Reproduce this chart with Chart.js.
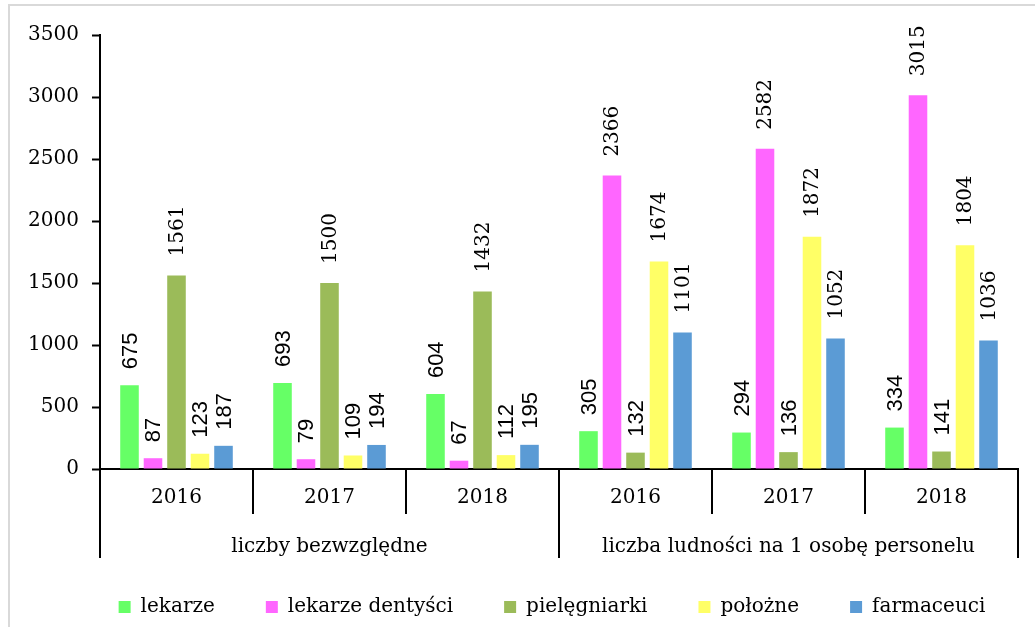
<!DOCTYPE html>
<html>
<head>
<meta charset="utf-8">
<script src="https://cdn.jsdelivr.net/npm/chart.js@4"></script>
<style>
  html, body { margin: 0; padding: 0; background: #fff; }
  #wrap { width: 1035px; height: 627px; position: relative; }
</style>
</head>
<body>
<div id="wrap"><canvas id="chart"></canvas></div>
<script>
// Data
const years = ['2016', '2017', '2018', '2016', '2017', '2018'];
const groups = ['liczby bezwzględne', 'liczba ludności na 1 osobę personelu'];
const lekarze = [675, 693, 604, 305, 294, 334];
const dentysci = [87, 79, 67, 2366, 2582, 3015];
const pielegniarki = [1561, 1500, 1432, 132, 136, 141];
const polozne = [123, 109, 112, 1674, 1872, 1804];
const farmaceuci = [187, 194, 195, 1101, 1052, 1036];
const yTicks = [0, 500, 1000, 1500, 2000, 2500, 3000, 3500];

const serif = "'DejaVu Serif', serif";
const sans = "'Liberation Sans', Arial, sans-serif";

// light frame around the chart, legend row shifted right like the original
const framePlugin = {
    id: 'frame',
    afterLayout(chart) {
        chart.legend.left = 60;
        chart.legend.right = 1044;
    },
    beforeDraw(chart) {
        const c = chart.ctx;
        c.save();
        c.strokeStyle = '#d9d9d9';
        c.lineWidth = 2;
        c.strokeRect(9, 5, chart.width + 20, chart.height + 20);
        c.restore();
    }
};

// rotated value labels above bars (4-digit ones are set in serif in the original)
const valueLabels = {
    id: 'valueLabels',
    afterDatasetsDraw(chart) {
        const c = chart.ctx;
        c.save();
        c.fillStyle = '#000';
        chart.data.datasets.forEach((ds, di) => {
            const meta = chart.getDatasetMeta(di);
            meta.data.forEach((bar, i) => {
                const v = ds.data[i];
                const big = v >= 1000;
                c.save();
                c.font = big ? '20px ' + serif : '22px ' + sans;
                c.translate(bar.x, bar.y - (big ? 19 : 16));
                c.rotate(-Math.PI / 2);
                c.textAlign = 'left';
                c.textBaseline = 'middle';
                c.fillText(String(v), 0, 1);
                c.restore();
            });
        });
        c.restore();
    }
};

// two-level category axis
const groupAxis = {
    id: 'groupAxis',
    afterDraw(chart) {
        const x = chart.scales.x;
        const c = chart.ctx;
        const base = chart.chartArea.bottom;
        const step = (x.right - x.left) / years.length;
        c.save();
        c.strokeStyle = '#000';
        c.lineWidth = 2;
        for (let i = 0; i <= years.length; i++) {
            const px = Math.round(x.left + i * step);
            const long = i % 3 === 0;
            c.beginPath();
            c.moveTo(px, base);
            c.lineTo(px, base + (long ? 89 : 45));
            c.stroke();
        }
        c.fillStyle = '#000';
        c.font = '20px ' + serif;
        c.textAlign = 'center';
        c.textBaseline = 'middle';
        years.forEach((y, i) => {
            c.fillText(y, x.getPixelForValue(i), base + 29);
        });
        groups.forEach((g, gi) => {
            const cx = x.left + (gi * 3 + 1.5) * step;
            c.fillText(g, cx, base + 78);
        });
        c.restore();
    }
};

const mk = (label, data, color) => ({
    label: label,
    data: data,
    backgroundColor: color,
    borderWidth: 0,
    categoryPercentage: 0.768,
    barPercentage: 0.79
});

new Chart(document.getElementById('chart'), {
    type: 'bar',
    data: {
        labels: years,
        datasets: [
            mk('lekarze', lekarze, '#66ff66'),
            mk('lekarze dentyści', dentysci, '#ff66ff'),
            mk('pielęgniarki', pielegniarki, '#9bbb59'),
            mk('położne', polozne, '#ffff66'),
            mk('farmaceuci', farmaceuci, '#5b9bd5')
        ]
    },
    options: {
        responsive: true,
        maintainAspectRatio: false,
        animation: false,
        devicePixelRatio: 1,
        layout: { padding: { left: 0, right: 17, top: 35, bottom: 0 } },
        plugins: {
            legend: {
                position: 'bottom',
                labels: {
                    color: '#000',
                    font: { family: serif, size: 20 },
                    boxWidth: 12,
                    boxHeight: 12,
                    padding: 51
                }
            },
            tooltip: { enabled: false }
        },
        scales: {
            x: {
                grid: { display: false },
                ticks: { display: false },
                border: { display: true, color: '#000', width: 2 },
                afterFit: s => { s.height = 77; }
            },
            y: {
                min: 0,
                max: 3500,
                afterFit: s => { s.width = 100; },
                afterBuildTicks: s => { s.ticks = yTicks.map(v => ({ value: v })); },
                grid: {
                    drawOnChartArea: false,
                    drawTicks: true,
                    tickLength: 8,
                    tickWidth: 2,
                    tickColor: '#000'
                },
                border: { display: true, color: '#000', width: 2 },
                ticks: {
                    color: '#000',
                    padding: 13,
                    font: { family: serif, size: 20 },
                    callback: v => String(v)
                }
            }
        }
    },
    plugins: [framePlugin, valueLabels, groupAxis]
});
</script>
</body>
</html>
